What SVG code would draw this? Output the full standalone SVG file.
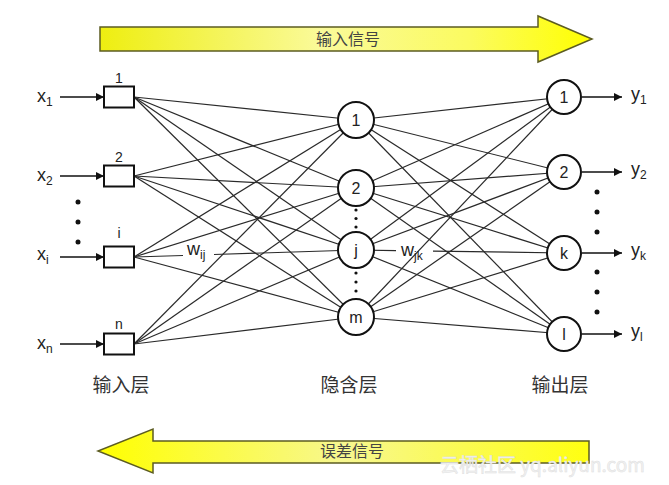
<svg xmlns="http://www.w3.org/2000/svg" width="669" height="485" viewBox="0 0 669 485">
<style>
.t{font-family:"Liberation Sans",Arial,sans-serif;fill:#222;}
.lbl{font-size:18px;}
.sub{font-size:12px;}
.num{font-size:16px;text-anchor:middle;}
.bn{font-size:14px;text-anchor:middle;}
.cjk{font-family:"Noto Sans CJK SC","Noto Sans",sans-serif;}
.layer{font-size:19px;fill:#333;text-anchor:middle;}
.arrtxt{font-size:16px;fill:#444;text-anchor:middle;}
.c line{stroke:#2a2a2a;stroke-width:1.2;}
.io line{stroke:#111;stroke-width:1.5;}
.node circle{fill:#fff;stroke:#111;stroke-width:2;}
.box rect{fill:#fff;stroke:#111;stroke-width:2;}
.dot{fill:#111;}
.big{stroke:#5c5c22;stroke-width:1.5;}
</style>
<defs>
<marker id="ah" viewBox="0 0 10 10" refX="10" refY="5" markerWidth="9" markerHeight="8" markerUnits="userSpaceOnUse" orient="auto">
<path d="M0,0 L10,5 L0,10 z" fill="#111"/>
</marker>
<linearGradient id="yg" x1="0" y1="0" x2="1" y2="0">
<stop offset="0" stop-color="#eeee10"/>
<stop offset="0.45" stop-color="#fafa9a"/>
<stop offset="0.75" stop-color="#fbfb60"/>
<stop offset="1" stop-color="#ffff00"/>
</linearGradient>
<linearGradient id="yg2" x1="0" y1="0" x2="1" y2="0">
<stop offset="0" stop-color="#ffff00"/>
<stop offset="0.5" stop-color="#f7f790"/>
<stop offset="1" stop-color="#ffff10"/>
</linearGradient>
</defs>
<rect width="669" height="485" fill="#fff"/>

<g id="arrow-forward">
<path class="big" d="M100,27 L538,27 L538,16 L592,39 L538,62 L538,51 L100,51 Z" fill="url(#yg)"/>
<text class="cjk arrtxt" x="348" y="45">输入信号</text>
</g>
<g id="arrow-backward">
<path class="big" d="M589,441 L153,441 L153,429 L98,451 L153,473 L153,463 L589,463 Z" fill="url(#yg2)"/>
<text class="cjk arrtxt" x="352" y="457">误差信号</text>
</g>

<g id="connectors" class="c">
<line x1="134" y1="97" x2="356" y2="120"/>
<line x1="134" y1="97" x2="356" y2="188"/>
<line x1="134" y1="97" x2="356" y2="250"/>
<line x1="134" y1="97" x2="356" y2="317"/>
<line x1="134" y1="176" x2="356" y2="120"/>
<line x1="134" y1="176" x2="356" y2="188"/>
<line x1="134" y1="176" x2="356" y2="250"/>
<line x1="134" y1="176" x2="356" y2="317"/>
<line x1="134" y1="257" x2="356" y2="120"/>
<line x1="134" y1="257" x2="356" y2="188"/>
<line x1="134" y1="257" x2="183" y2="255.5"/>
<line x1="214" y1="254.5" x2="356" y2="250"/>
<line x1="134" y1="257" x2="356" y2="317"/>
<line x1="134" y1="344" x2="356" y2="120"/>
<line x1="134" y1="344" x2="356" y2="188"/>
<line x1="134" y1="344" x2="356" y2="250"/>
<line x1="134" y1="344" x2="356" y2="317"/>
<line x1="356" y1="120" x2="564" y2="97"/>
<line x1="356" y1="120" x2="564" y2="172"/>
<line x1="356" y1="120" x2="564" y2="253"/>
<line x1="356" y1="120" x2="564" y2="334"/>
<line x1="356" y1="188" x2="564" y2="97"/>
<line x1="356" y1="188" x2="564" y2="172"/>
<line x1="356" y1="188" x2="564" y2="253"/>
<line x1="356" y1="188" x2="564" y2="334"/>
<line x1="356" y1="250" x2="564" y2="97"/>
<line x1="356" y1="250" x2="564" y2="172"/>
<line x1="356" y1="250" x2="396" y2="250.6"/>
<line x1="433" y1="251.1" x2="564" y2="253"/>
<line x1="356" y1="250" x2="564" y2="334"/>
<line x1="356" y1="317" x2="564" y2="97"/>
<line x1="356" y1="317" x2="564" y2="172"/>
<line x1="356" y1="317" x2="564" y2="253"/>
<line x1="356" y1="317" x2="564" y2="334"/>
</g>

<g id="io-arrows" class="io">
<line x1="60" y1="97" x2="104" y2="97" marker-end="url(#ah)"/>
<line x1="60" y1="176" x2="104" y2="176" marker-end="url(#ah)"/>
<line x1="60" y1="257" x2="104" y2="257" marker-end="url(#ah)"/>
<line x1="60" y1="344" x2="104" y2="344" marker-end="url(#ah)"/>
<line x1="582" y1="97" x2="622" y2="97" marker-end="url(#ah)"/>
<line x1="582" y1="172" x2="622" y2="172" marker-end="url(#ah)"/>
<line x1="582" y1="253" x2="622" y2="253" marker-end="url(#ah)"/>
<line x1="582" y1="334" x2="622" y2="334" marker-end="url(#ah)"/>
</g>

<g id="weights">
<text class="t lbl" x="187" y="255">w<tspan class="sub" dy="4">ij</tspan></text>
<text class="t lbl" x="401" y="256">w<tspan class="sub" dy="4">jk</tspan></text>
</g>

<g id="input-labels">
<text class="t lbl" x="37" y="102">x<tspan class="sub" dy="4">1</tspan></text>
<text class="t lbl" x="37" y="181">x<tspan class="sub" dy="4">2</tspan></text>
<text class="t lbl" x="37" y="260">x<tspan class="sub" dy="4">i</tspan></text>
<text class="t lbl" x="37" y="349">x<tspan class="sub" dy="4">n</tspan></text>
<circle class="dot" cx="78" cy="202" r="2.5"/>
<circle class="dot" cx="78" cy="222" r="2.5"/>
<circle class="dot" cx="78" cy="242" r="2.5"/>
</g>

<g id="in1" class="box"><rect x="104" y="86.5" width="30" height="21"/><text class="t bn" x="119" y="83">1</text></g>
<g id="in2" class="box"><rect x="104" y="165.5" width="30" height="21"/><text class="t bn" x="119" y="162">2</text></g>
<g id="ini" class="box"><rect x="104" y="246.5" width="30" height="21"/><text class="t bn" x="119" y="238">i</text></g>
<g id="inn" class="box"><rect x="104" y="333.5" width="30" height="21"/><text class="t bn" x="119" y="329">n</text></g>

<g id="h1" class="node"><circle cx="356" cy="120" r="18"/><text class="t num" x="356" y="126">1</text></g>
<g id="h2" class="node"><circle cx="356" cy="188" r="18"/><text class="t num" x="356" y="194">2</text></g>
<g id="hj" class="node"><circle cx="356" cy="250" r="18"/><text class="t num" x="356" y="256">j</text></g>
<g id="hm" class="node"><circle cx="356" cy="317" r="18"/><text class="t num" x="356" y="323">m</text></g>
<g id="hidden-dots">
<circle class="dot" cx="356" cy="210" r="1.6"/>
<circle class="dot" cx="356" cy="218.5" r="1.6"/>
<circle class="dot" cx="356" cy="227" r="1.6"/>
<circle class="dot" cx="356" cy="273" r="1.6"/>
<circle class="dot" cx="356" cy="282" r="1.6"/>
<circle class="dot" cx="356" cy="291" r="1.6"/>
</g>

<g id="o1" class="node"><circle cx="564" cy="97" r="17"/><text class="t num" x="564" y="103">1</text></g>
<g id="o2" class="node"><circle cx="564" cy="172" r="17"/><text class="t num" x="564" y="178">2</text></g>
<g id="ok" class="node"><circle cx="564" cy="253" r="17"/><text class="t num" x="564" y="259">k</text></g>
<g id="ol" class="node"><circle cx="564" cy="334" r="17"/><text class="t num" x="564" y="340">l</text></g>

<g id="output-labels">
<text class="t lbl" x="631" y="100">y<tspan class="sub" dy="4">1</tspan></text>
<text class="t lbl" x="631" y="175">y<tspan class="sub" dy="4">2</tspan></text>
<text class="t lbl" x="631" y="256">y<tspan class="sub" dy="4">k</tspan></text>
<text class="t lbl" x="631" y="337">y<tspan class="sub" dy="4">l</tspan></text>
<circle class="dot" cx="597" cy="192" r="2.5"/>
<circle class="dot" cx="597" cy="212" r="2.5"/>
<circle class="dot" cx="597" cy="232" r="2.5"/>
<circle class="dot" cx="597" cy="272" r="2.5"/>
<circle class="dot" cx="597" cy="292" r="2.5"/>
<circle class="dot" cx="597" cy="312" r="2.5"/>
</g>

<g id="layer-labels">
<text class="cjk layer" x="121" y="392">输入层</text>
<text class="cjk layer" x="349" y="392">隐含层</text>
<text class="cjk layer" x="560" y="392">输出层</text>
</g>

<text id="watermark" x="440" y="472" style="font-family:'Noto Sans CJK SC','Liberation Sans',sans-serif;font-size:19px;fill:#f2f2f2;stroke:#e0e0e0;stroke-width:0.5;">云栖社区 yq.aliyun.com</text>
</svg>
